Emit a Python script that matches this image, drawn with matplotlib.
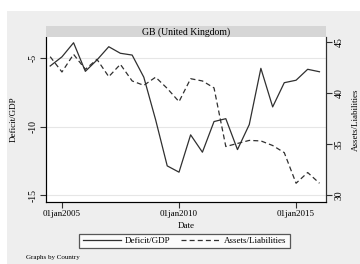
import pandas as pd
import matplotlib
matplotlib.use('Agg')
import matplotlib.pyplot as plt

plt.rcParams['font.family'] = 'Liberation Serif'

# Semiannual observations, GB (United Kingdom)
dates = ['2004-07-01', '2005-01-01', '2005-07-01', '2006-01-01', '2006-07-01',
         '2007-01-01', '2007-07-01', '2008-01-01', '2008-07-01', '2009-01-01',
         '2009-07-01', '2010-01-01', '2010-07-01', '2011-01-01', '2011-07-01',
         '2012-01-01', '2012-07-01', '2013-01-01', '2013-07-01', '2014-01-01',
         '2014-07-01', '2015-01-01', '2015-07-01', '2016-01-01']
deficit_gdp = [-5.57, -4.90, -3.87, -5.96, -5.13, -4.16, -4.64, -4.77, -6.39, -9.50,
               -12.87, -13.33, -10.60, -11.87, -9.63, -9.42, -11.68, -9.85, -5.74, -8.56,
               -6.79, -6.61, -5.81, -5.99]
assets_liab = [43.56, 42.06, 43.79, 42.32, 43.30, 41.60, 42.81, 41.18, 40.75, 41.55,
               40.45, 39.15, 41.40, 41.18, 40.50, 34.75, 35.05, 35.35, 35.30, 34.85,
               34.15, 31.15, 32.20, 31.15]
x_ticks = ['2005-01-01', '2010-01-01', '2015-01-01']
left_ticks = [-5, -10, -15]
right_ticks = [30, 35, 40, 45]

d = pd.to_datetime(dates)
W, H = 360, 264
fig = plt.figure(figsize=(W / 100, H / 100), dpi=100, facecolor='white')

# gray graph region
bg = fig.add_axes([7 / W, 0, 1 - 7 / W, 1 - 11 / H], zorder=-10)
bg.set_facecolor('#eeeeee')
bg.set_xticks([])
bg.set_yticks([])
for s in bg.spines.values():
    s.set_visible(False)

x0, x1, y0, y1 = 46, 326, 37, 202
ax = fig.add_axes([x0 / W, 1 - y1 / H, (x1 - x0) / W, (y1 - y0) / H])
ax.set_facecolor('white')
ax.plot(d, deficit_gdp, color='#303030', lw=0.9, label='Deficit/GDP', zorder=3)
ax.set_ylim(-15.51, -3.45)
ax.set_xlim(pd.Timestamp('2004-04-27'), pd.Timestamp('2016-04-12'))
ax.set_yticks(left_ticks)
ax.set_yticklabels(['-5', '-10', '-15'], rotation=90, va='center', fontsize=7)
ax.set_xticks(pd.to_datetime(x_ticks))
ax.set_xticklabels(['01jan2005', '01jan2010', '01jan2015'], fontsize=6.5)
ax.grid(axis='y', color='#e6e6e6', lw=0.8)
ax.grid(axis='x', visible=False)
ax.set_axisbelow(True)
ax.set_ylabel('Deficit/GDP', fontsize=6.5, labelpad=8)
ax.set_xlabel('Date', fontsize=6.5, labelpad=3)
ax.tick_params(length=4, width=0.8, color='#303030', pad=2)
ax.spines['top'].set_visible(False)
for s in ['left', 'bottom', 'right']:
    ax.spines[s].set_color('#303030')
    ax.spines[s].set_linewidth(0.8)

ax2 = ax.twinx()
ax2.plot(d, assets_liab, color='#303030', lw=0.9, dashes=(4, 2.5),
         label='Assets/Liabilities', zorder=3)
ax2.set_ylim(29.31, 45.49)
ax2.set_yticks(right_ticks)
ax2.set_yticklabels([str(t) for t in right_ticks], rotation=90, va='center', fontsize=7)
ax2.set_ylabel('Assets/Liabilities', fontsize=6.5, labelpad=6, rotation=90)
ax2.tick_params(length=4, width=0.8, color='#303030', pad=2)
ax2.spines['top'].set_visible(False)
ax2.spines['right'].set_color('#303030')
ax2.spines['right'].set_linewidth(0.8)

# panel title strip
strip = fig.add_axes([x0 / W, 1 - y0 / H, (x1 - x0) / W, 11 / H])
strip.set_facecolor('#d6d6d6')
strip.set_xticks([])
strip.set_yticks([])
for s in strip.spines.values():
    s.set_visible(False)
strip.text(0.5, 0.45, 'GB (United Kingdom)', ha='center', va='center', fontsize=7,
           transform=strip.transAxes)

h1, l1 = ax.get_legend_handles_labels()
h2, l2 = ax2.get_legend_handles_labels()
leg = fig.legend(h1 + h2, l1 + l2, ncol=2, loc='center',
                 bbox_to_anchor=((80 + 289) / 2 / W, 1 - 241 / H),
                 fontsize=6.5, frameon=True, fancybox=False, edgecolor='#303030',
                 handlelength=4.2, columnspacing=1.2, handletextpad=0.5,
                 borderpad=0.35, borderaxespad=0)
leg.get_frame().set_linewidth(0.9)

fig.text(26 / W, 1 - 258 / H, 'Graphs by Country', fontsize=5, va='center')

fig.savefig('out.png', dpi=100, facecolor=fig.get_facecolor())
